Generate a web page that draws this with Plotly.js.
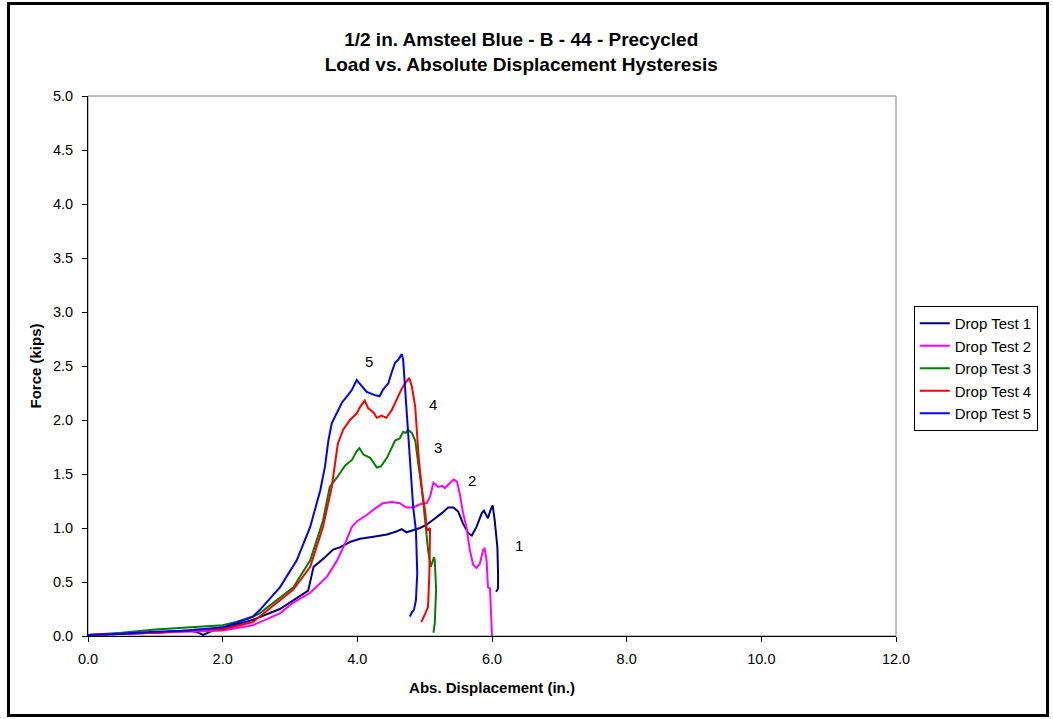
<!DOCTYPE html>
<html>
<head>
<meta charset="utf-8">
<script src="https://cdn.plot.ly/plotly-3.0.1.min.js"></script>
<style>
html,body{margin:0;padding:0;background:#fff;}
#wrap{position:relative;width:1053px;height:719px;}
#chart{width:1053px;height:719px;}
#frame{position:absolute;left:7px;top:2px;width:1036px;height:709px;border:3px solid #000;pointer-events:none;}
</style>
</head>
<body>
<div id="wrap"><div id="chart"></div><div id="frame"></div></div>
<script>
// Drop Test 1 (navy)
const t1x = [0.0,0.5,1.0,1.5,1.6,1.71,1.85,2.0,2.45,2.85,3.15,3.27,3.35,3.45,3.52,3.64,3.74,3.89,4.04,4.24,4.44,4.59,4.66,4.73,4.83,4.93,5.03,5.12,5.26,5.35,5.43,5.50,5.57,5.65,5.70,5.77,5.85,5.88,5.94,5.98,6.01,6.04,6.08,6.09,6.09,6.06];
const t1y = [0.01,0.02,0.03,0.05,0.04,0.01,0.05,0.07,0.15,0.25,0.37,0.42,0.64,0.69,0.73,0.80,0.82,0.87,0.90,0.92,0.94,0.97,0.99,0.96,0.98,1.00,1.03,1.07,1.14,1.19,1.19,1.15,1.04,0.95,0.93,1.01,1.14,1.16,1.09,1.17,1.21,1.07,0.82,0.58,0.44,0.41];
// Drop Test 2 (magenta)
const t2x = [0.0,0.5,1.0,1.5,2.0,2.45,2.85,3.05,3.30,3.55,3.70,3.82,3.92,4.01,4.14,4.26,4.38,4.51,4.63,4.73,4.83,4.93,5.03,5.08,5.13,5.20,5.26,5.30,5.38,5.43,5.48,5.52,5.57,5.62,5.67,5.72,5.77,5.82,5.87,5.89,5.92,5.94,5.97,6.00];
const t2y = [0.0,0.02,0.03,0.04,0.05,0.10,0.21,0.31,0.40,0.55,0.70,0.86,1.01,1.07,1.12,1.18,1.23,1.24,1.23,1.19,1.19,1.22,1.23,1.29,1.42,1.38,1.39,1.37,1.42,1.45,1.43,1.32,1.14,1.01,0.80,0.66,0.63,0.67,0.80,0.81,0.70,0.45,0.44,0.0];
// Drop Test 3 (green)
const t3x = [0.0,0.5,1.0,1.5,2.0,2.2,2.45,2.55,3.05,3.30,3.49,3.59,3.70,3.82,3.92,3.99,4.03,4.09,4.19,4.29,4.35,4.44,4.51,4.56,4.63,4.68,4.72,4.75,4.81,4.86,4.91,4.96,5.01,5.05,5.09,5.11,5.14,5.15,5.17,5.15,5.13];
const t3y = [0.01,0.03,0.06,0.08,0.10,0.13,0.18,0.21,0.45,0.70,1.07,1.38,1.47,1.58,1.63,1.71,1.74,1.68,1.65,1.56,1.57,1.65,1.75,1.81,1.83,1.89,1.88,1.91,1.88,1.81,1.57,1.35,1.05,0.80,0.64,0.67,0.73,0.70,0.43,0.12,0.03];
// Drop Test 4 (red)
const t4x = [0.0,0.5,1.0,1.5,1.6,2.0,2.2,2.45,2.55,3.05,3.30,3.49,3.62,3.71,3.79,3.89,3.99,4.04,4.11,4.16,4.24,4.29,4.36,4.43,4.51,4.59,4.66,4.71,4.77,4.81,4.86,4.91,4.96,5.01,5.03,5.05,5.08,5.07,5.05,5.01,4.96,4.95];
const t4y = [0.01,0.02,0.03,0.05,0.06,0.06,0.09,0.13,0.18,0.43,0.64,1.01,1.38,1.78,1.91,2.00,2.06,2.12,2.18,2.11,2.07,2.02,2.04,2.02,2.09,2.20,2.29,2.34,2.39,2.31,2.12,1.66,1.35,1.14,1.00,0.98,1.00,0.58,0.27,0.21,0.15,0.13];
// Drop Test 5 (blue)
const t5x = [0.0,0.5,1.0,1.5,2.0,2.2,2.45,2.55,2.85,3.10,3.30,3.45,3.52,3.57,3.62,3.67,3.77,3.86,3.92,3.99,4.07,4.14,4.26,4.33,4.38,4.46,4.51,4.56,4.61,4.66,4.68,4.73,4.78,4.83,4.87,4.89,4.87,4.84,4.81,4.78];
const t5y = [0.01,0.02,0.04,0.05,0.08,0.12,0.18,0.24,0.45,0.70,1.01,1.35,1.57,1.81,1.97,2.03,2.16,2.23,2.28,2.37,2.31,2.26,2.23,2.22,2.28,2.34,2.44,2.53,2.56,2.61,2.56,2.12,1.66,1.19,0.98,0.58,0.33,0.24,0.22,0.18];

const seriesNames = ["Drop Test 1","Drop Test 2","Drop Test 3","Drop Test 4","Drop Test 5"];
const labelText = ["1","2","3","4","5"];
const labelX = [6.40,5.70,5.20,5.12,4.17];
const labelY = [0.84,1.44,1.75,2.14,2.54];
const xTicks = [0,2,4,6,8,10,12];
const yTicks = [0,0.5,1,1.5,2,2.5,3,3.5,4,4.5,5];

const colors = ["#000080","#FF00FF","#008000","#FF0000","#0000FF"];
const xs = [t1x,t2x,t3x,t4x,t5x];
const ys = [t1y,t2y,t3y,t4y,t5y];

const FONT = "Arial, 'Liberation Sans', sans-serif";
const traces = xs.map((x,i)=>({
  x: x, y: ys[i], type:"scatter", mode:"lines", name: seriesNames[i],
  line:{color: colors[i], width:2}
}));

const annotations = labelText.map((t,i)=>({
  x: labelX[i], y: labelY[i], xref:"x", yref:"y", text:t, showarrow:false,
  font:{family:FONT,size:15,color:"#000"}
}));

const layout = {
  width:1053, height:719,
  margin:{l:88,r:157,t:96,b:83},
  paper_bgcolor:"#fff", plot_bgcolor:"#fff",
  font:{family:FONT,size:14,color:"#000"},
  title:{text:"<b>1/2 in. Amsteel Blue - B - 44 - Precycled<br>Load vs. Absolute Displacement Hysteresis</b>",
    x:0.495, xref:"container", y:0.936, yref:"container", yanchor:"top",
    font:{family:FONT,size:19,color:"#000"}},
  xaxis:{range:[0,12], tickvals:xTicks, ticktext:xTicks.map(v=>v.toFixed(1)),
    showgrid:false, zeroline:false, showline:true, linecolor:"#000", linewidth:1,
    ticks:"outside", ticklen:5, tickcolor:"#000", ticklabelstandoff:5,
    tickfont:{family:FONT,size:14.5,color:"#000"},
    title:{text:"<b>Abs. Displacement (in.)</b>", font:{family:FONT,size:15,color:"#000"}, standoff:16}},
  yaxis:{range:[0,5], tickvals:yTicks, ticktext:yTicks.map(v=>v.toFixed(1)),
    showgrid:false, zeroline:false, showline:true, linecolor:"#000", linewidth:1,
    ticks:"outside", ticklen:5, tickcolor:"#000", ticklabelstandoff:6,
    tickfont:{family:FONT,size:14.5,color:"#000"},
    title:{text:"<b>Force (kips)</b>", font:{family:FONT,size:15,color:"#000"}, standoff:7}},
  legend:{x:1.022, xanchor:"left", y:0.611, yanchor:"top",
    bordercolor:"#000", borderwidth:1, bgcolor:"#fff",
    font:{family:FONT,size:15,color:"#000"}, tracegroupgap:0},
  shapes:[{type:"rect", xref:"paper", yref:"paper", x0:0, x1:1, y0:0, y1:1,
    line:{color:"#808080", width:1}, layer:"below"}],
  annotations: annotations,
  showlegend:true
};

Plotly.newPlot("chart", traces, layout, {displayModeBar:false, staticPlot:true});
</script>
</body>
</html>
